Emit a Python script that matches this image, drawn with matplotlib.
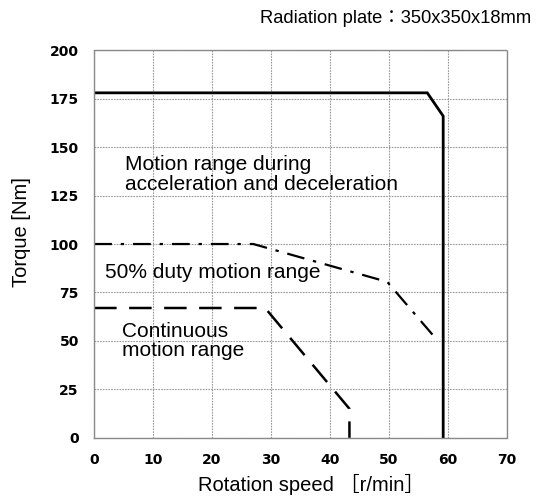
"""Torque vs rotation speed motion-range chart."""

import matplotlib

matplotlib.use("Agg")
import matplotlib.pyplot as plt

# accel/decel range (solid)
accel_speed = [0, 56.5, 59.2, 59.2]
accel_torque = [178, 178, 166, 0]

# 50% duty range (dash-dot)
duty_speed = [0, 27, 49.7, 58.3]
duty_torque = [100, 100, 80.5, 50]

# continuous range (dashed)
cont_speed = [0, 29, 43.3, 43.3]
cont_torque = [67, 67, 15, 0]

x_ticks = [0, 10, 20, 30, 40, 50, 60, 70]
y_ticks = [0, 25, 50, 75, 100, 125, 150, 175, 200]

plt.rcParams["font.family"] = ["Liberation Sans", "Noto Sans CJK JP", "DejaVu Sans"]

fig = plt.figure(figsize=(5.57, 4.97), dpi=100)
ax = fig.add_axes([0.169, 0.119, 0.741, 0.780])

ax.plot(accel_speed, accel_torque, color="black", lw=2.0, solid_joinstyle="miter")
ax.plot(duty_speed, duty_torque, color="black", lw=1.6, dashes=(8, 4, 1.5, 4))
ax.plot(cont_speed, cont_torque, color="black", lw=1.8, dashes=(9, 5))

ax.set_xlim(0, 70)
ax.set_ylim(0, 200)
ax.set_xticks(x_ticks)
ax.set_yticks(y_ticks)
ax.tick_params(length=0, labelsize=10)
ax.tick_params(axis="x", pad=11)
ax.tick_params(axis="y", pad=11)
for lbl in ax.get_xticklabels() + ax.get_yticklabels():
    lbl.set_fontweight("bold")
    lbl.set_family("DejaVu Sans")
ax.grid(True, color="#9a9a9a", lw=0.8, ls=(0, (1.5, 1)))
for sp in ax.spines.values():
    sp.set_color("#8a8a8a")
    sp.set_linestyle((0, (1.5, 1)))
    sp.set_linewidth(1.0)

ax.text(5.3, 146, "Motion range during\nacceleration and deceleration",
        fontsize=15, linespacing=1.05, va="top")
ax.text(1.8, 85.5, "50% duty motion range", fontsize=15, va="center")
ax.text(4.8, 60, "Continuous\nmotion range", fontsize=15, linespacing=1.05,
        va="top")

ax.set_xlabel("Rotation speed ［r/min］", fontsize=14.5)
ax.xaxis.label.set_verticalalignment("baseline")
ax.xaxis.set_label_coords(0.525, -0.138)
ax.set_ylabel("Torque [Nm]", fontsize=14.5)
ax.yaxis.set_label_coords(-0.153, 0.53)
fig.text(0.711, 0.962, "Radiation plate：350x350x18mm", fontsize=13.2,
         ha="center", va="center")

fig.savefig("out.png", dpi=100)
